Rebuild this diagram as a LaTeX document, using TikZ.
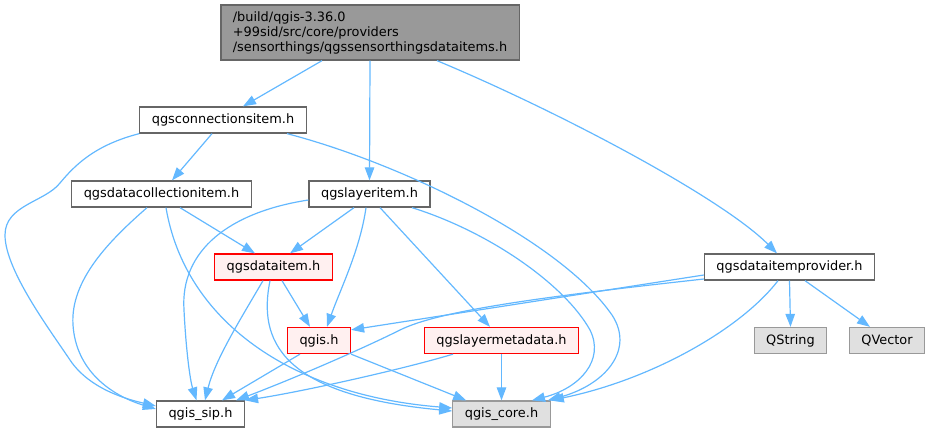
\documentclass[tikz,border=0pt]{standalone}
\usepackage{fontspec}
\setmainfont{DejaVu Sans}
\usepackage{tikz}
\usetikzlibrary{arrows.meta,calc}
\definecolor{edgeblue}{HTML}{63B8FF}

\begin{document}
\begin{tikzpicture}[x=1pt, y=-1pt,
    every node/.style={font=\fontsize{12.9}{15}\selectfont, inner xsep=12pt, inner ysep=0pt, minimum height=26pt, line width=1.3pt},
    file/.style={draw=black!60, fill=white},
    redfile/.style={draw=red, fill=red!6},
    sysfile/.style={draw=black!40, fill=black!12},
    mainfile/.style={draw=black!60, fill=black!40, align=left, minimum width=298pt, minimum height=55pt},
    dep/.style={draw=edgeblue, line width=1.2pt, -{Triangle[length=13pt,width=9.5pt]}}]
        \useasboundingbox (0,0) rectangle (929,432);

        % the files, one row of the graph after the other
        \node[mainfile] (main) at (370,32.5) {/build/qgis-3.36.0\\+99sid/src/core/providers\\/sensorthings/qgssensorthingsdataitems.h};
        \node[file] (conn) at (223,120) {qgsconnectionsitem.h};
        \node[file] (coll) at (161.5,194) {qgsdatacollectionitem.h};
        \node[file] (layer) at (369.5,194) {qgslayeritem.h};
        \node[redfile] (ditem) at (273.5,267) {qgsdataitem.h};
        \node[file] (prov) at (789.5,267) {qgsdataitemprovider.h};
        \node[redfile] (qgis) at (319,340.5) {qgis.h};
        \node[redfile] (meta) at (501.5,340.5) {qgslayermetadata.h};
        \node[sysfile] (qstr) at (790.5,340.5) {QString};
        \node[sysfile] (qvec) at (887,340.5) {QVector};
        \node[file] (sip) at (200.5,414) {qgis\_sip.h};
        \node[sysfile] (core) at (501.5,414) {qgis\_core.h};

        % includes of the main file
        \draw[dep] ($(main.south)+(-48,0)$) -- ($(conn.north)+(20,0)$);
        \draw[dep] (main.south) -- (layer.north);
        \draw[dep] ($(main.south)+(67,0)$) .. controls (560,112) and (722,198) .. ($(prov.north)+(-12.5,0)$);

        % qgsconnectionsitem.h
        \draw[dep] ($(conn.south)+(-11,0)$) -- ($(coll.north)+(10.5,0)$);
        \draw[dep] (conn.south west) .. controls (95,145) and (75,165) .. (60,183) .. controls (45,202) and (5,205) .. (5,235) .. controls (5,270) and (50,330) .. (70,360) .. controls (90,390) and (130,400) .. ($(sip.west)+(0,-8)$);
        \draw[dep] ($(conn.south)+(64,0)$) .. controls (400,163) and (560,240) .. (612,315) .. controls (635,350) and (605,385) .. ($(core.north east)+(-3,0)$);

        % qgsdatacollectionitem.h
        \draw[dep] ($(coll.south)+(18.5,0)$) -- ($(ditem.north)+(-18.5,0)$);
        \draw[dep] ($(coll.south)+(-14.5,0)$) .. controls (110,240) and (70,280) .. (73,325) .. controls (76,370) and (110,395) .. ($(sip.west)+(0,-5)$);
        \draw[dep] ($(coll.south)+(4.5,0)$) .. controls (185,320) and (290,395) .. ($(core.west)+(0,-6)$);

        % qgslayeritem.h
        \draw[dep] ($(layer.south)+(-15.5,0)$) -- ($(ditem.north)+(16.5,0)$);
        \draw[dep] ($(layer.south)+(-3.5,0)$) .. controls (360,250) and (340,290) .. ($(qgis.north)+(8,0)$);
        \draw[dep] ($(layer.south)+(10.5,0)$) -- ($(meta.north)+(-11.5,0)$);
        \draw[dep] ($(layer.south)+(42.5,0)$) .. controls (490,232) and (565,285) .. (590,330) .. controls (605,360) and (580,388) .. ($(core.north)+(30.5,0)$);
        \draw[dep] ($(layer.west)+(0,6)$) .. controls (230,212) and (180,250) .. (184,310) .. controls (186,350) and (190,380) .. ($(sip.north)+(-4,0)$);

        % qgsdataitem.h
        \draw[dep] ($(ditem.south)+(-10.5,0)$) .. controls (240,320) and (215,360) .. ($(sip.north)+(4.5,0)$);
        \draw[dep] ($(ditem.south)+(8.5,0)$) -- ($(qgis.north)+(-9,0)$);
        \draw[dep] ($(ditem.south)+(-3.5,0)$) .. controls (258,340) and (280,395) .. ($(core.west)+(0,-3)$);

        % qgis.h and qgslayermetadata.h
        \draw[dep] ($(qgis.south)+(-19,0)$) -- ($(sip.north)+(21.5,0)$);
        \draw[dep] (qgis.south east) -- ($(core.north west)+(14,0)$);
        \draw[dep] ($(meta.south)+(-48.5,0)$) .. controls (400,370) and (300,392) .. (sip.north east);
        \draw[dep] (meta.south) -- (core.north);

        % qgsdataitemprovider.h
        \draw[dep] ($(prov.west)+(0,8)$) -- ($(qgis.north east)+(0,3)$);
        \draw[dep] ($(prov.west)+(0,12)$) .. controls (550,296) and (440,310) .. (400,330) .. controls (360,350) and (290,380) .. ($(sip.north east)+(-9,0)$);
        \draw[dep] (prov.south) -- (qstr.north);
        \draw[dep] ($(prov.south)+(15.5,0)$) -- ($(qvec.north)+(-17,0)$);
        \draw[dep] ($(prov.south)+(-11.5,0)$) .. controls (740,330) and (650,380) .. (core.north east);
    \end{tikzpicture}
\end{document}
